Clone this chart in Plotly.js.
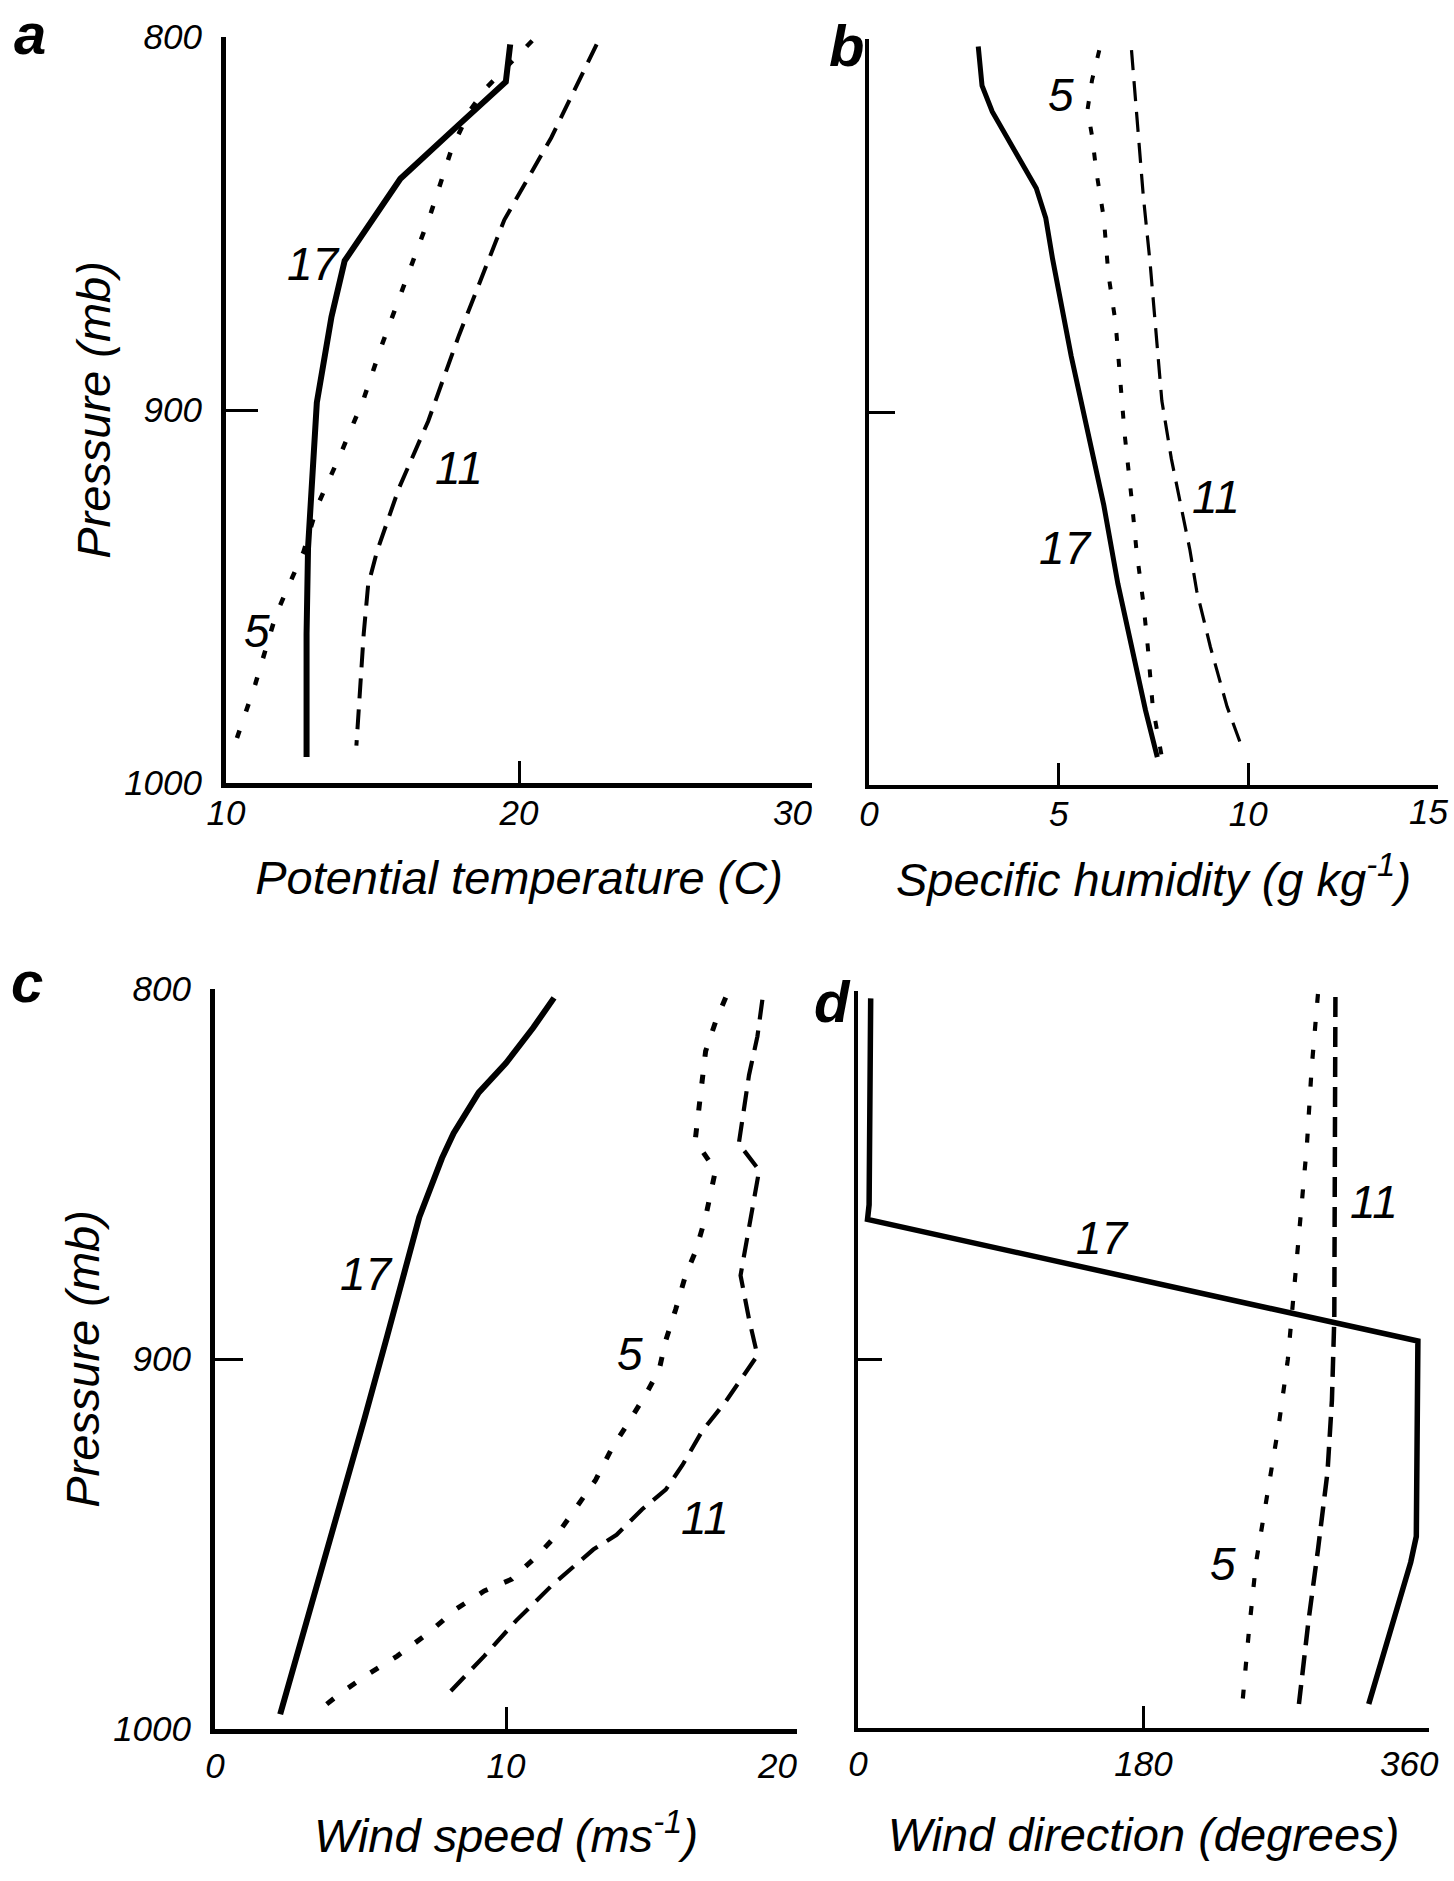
<!DOCTYPE html>
<html>
<head>
<meta charset="utf-8">
<script src="https://cdn.plot.ly/plotly-3.0.1.min.js"></script>
<style>html,body{margin:0;padding:0;background:#fff;}</style>
</head>
<body>
<div id="chart" style="width:1454px;height:1881px;"></div>
<script>
// ---------- Panel a: potential temperature (C) vs pressure (mb) ----------
const A17_p = [802, 812, 823.5, 838, 860, 875, 898, 921, 937, 960, 993];
const A17_t = [19.7, 19.55, 17.95, 15.95, 14.05, 13.6, 13.1, 12.95, 12.8, 12.75, 12.75];
const A5_p  = [801, 807, 813.5, 820, 830, 847, 866, 883, 897, 912, 926, 938, 946, 955, 973.5, 983, 992];
const A5_t  = [20.45, 19.7, 18.9, 18.3, 17.7, 17.0, 16.1, 15.3, 14.7, 13.9, 13.1, 12.65, 12.2, 11.7, 11.0, 10.6, 10.2];
const A11_p = [802, 827, 849, 880, 903, 921, 938, 947, 960, 990];
const A11_t = [22.65, 21.1, 19.5, 17.95, 16.9, 15.9, 15.15, 14.85, 14.7, 14.45];

// ---------- Panel b: specific humidity (g/kg) ----------
const B17_p = [802, 812.5, 819.5, 832.5, 840, 848, 859, 885, 905, 925, 946, 963, 980, 992.5];
const B17_q = [2.88, 2.98, 3.25, 3.98, 4.41, 4.66, 4.84, 5.33, 5.76, 6.19, 6.56, 6.92, 7.29, 7.6];
const B5_p  = [803, 811, 819, 826, 836, 848, 863, 876, 891, 906, 923, 937, 951, 963, 979, 992.5];
const B5_q  = [6.07, 5.88, 5.76, 5.88, 6.0, 6.19, 6.31, 6.5, 6.62, 6.74, 6.92, 7.05, 7.23, 7.35, 7.48, 7.72];
const B11_p = [803, 820, 842, 860, 882, 897, 912.5, 925, 937, 948, 963, 979, 991];
const B11_q = [6.92, 7.05, 7.23, 7.41, 7.6, 7.72, 7.97, 8.21, 8.46, 8.64, 9.0, 9.44, 9.87];

// ---------- Panel c: wind speed (m/s) ----------
const C17_p = [802.4, 810.4, 820, 828, 839, 845.7, 861.7, 876, 893.7, 916, 941.8, 969, 996];
const C17_s = [11.65, 10.94, 10.0, 9.06, 8.2, 7.8, 7.02, 6.55, 5.92, 5.14, 4.2, 3.26, 2.24];
const C5_p  = [802.3, 808.9, 816.8, 827.3, 836.5, 841, 849, 861.6, 870.8, 877.4, 886.6, 895, 903, 909.6, 916.9, 924, 932.7, 940.6, 947, 953, 959.5, 962.7, 967.5, 973.9, 980.3, 985, 990, 994.4];
const C5_s  = [17.55, 17.2, 16.86, 16.7, 16.57, 16.5, 17.2, 16.86, 16.52, 16.17, 15.83, 15.49, 15.26, 14.8, 14.23, 13.65, 13.08, 12.4, 11.8, 11.1, 10.2, 9.25, 8.3, 7.36, 6.26, 5.3, 4.37, 3.66];
const C11_p = [802.9, 812.8, 823.3, 836.5, 841.8, 849, 860, 870.8, 877.4, 889.2, 899, 903.7, 911.5, 919.5, 928.7, 935.3, 940.6, 947.5, 951.5, 961, 970.7, 980.3, 990];
const C11_s = [18.81, 18.64, 18.35, 18.12, 18.0, 18.7, 18.46, 18.23, 18.06, 18.35, 18.64, 18.23, 17.55, 16.74, 16.06, 15.49, 14.68, 13.8, 13.0, 11.6, 10.35, 9.25, 8.07];

// ---------- Panel d: wind direction (degrees) ----------
const D17_p = [802, 858, 862, 895, 948, 955, 993.5];
const D17_d = [8, 7, 6, 353, 352, 348.5, 322];
const D5_p  = [800.8, 821, 842, 864.5, 885.5, 900, 917.7, 937, 955, 974, 995];
const D5_d  = [290, 286, 283, 278.5, 274, 271, 265.3, 258, 251, 246.4, 242];
const D11_p = [801.6, 837, 888.7, 911, 930.6, 951.6, 971, 993.5];
const D11_d = [301, 301, 300.3, 298.8, 296, 290, 284, 278];

// ---------- ticks / labels ----------
const pTicks = [800, 900, 1000];
const aTicks = [10, 20, 30];
const bTicks = [0, 5, 10, 15];
const cTicks = [0, 10, 20];
const dTicks = [0, 180, 360];
const seriesNames = ['17', '5', '11'];

const W = 1454, H = 1881;
const FONT = 'Liberation Sans, Arial, Helvetica, sans-serif';
const NB = '\u00a0';
const TICKSIZE = 35;
const dx = (a, b) => [a / W, b / W];
const dy = (top, bot) => [1 - bot / H, 1 - top / H];

function tr(x, y, xa, ya, name, width, dash) {
  return {x: x, y: y, xaxis: xa, yaxis: ya, name: name, mode: 'lines', hoverinfo: 'skip',
          line: {color: 'black', width: width, dash: dash || 'solid'}};
}

const data = [
  tr(A17_t, A17_p, 'x', 'y', seriesNames[0], 6),
  tr(A5_t, A5_p, 'x', 'y', seriesNames[1], 4.5, '8px,20px'),
  tr(A11_t, A11_p, 'x', 'y', seriesNames[2], 4, '20px,11px'),
  tr(B17_q, B17_p, 'x2', 'y2', seriesNames[0], 5),
  tr(B5_q, B5_p, 'x2', 'y2', seriesNames[1], 4, '8px,18px'),
  tr(B11_q, B11_p, 'x2', 'y2', seriesNames[2], 3.2, '20px,11px'),
  tr(C17_s, C17_p, 'x3', 'y3', seriesNames[0], 6),
  tr(C5_s, C5_p, 'x3', 'y3', seriesNames[1], 5, '9px,18px'),
  tr(C11_s, C11_p, 'x3', 'y3', seriesNames[2], 4.2, '20px,11px'),
  tr(D17_d, D17_p, 'x4', 'y4', seriesNames[0], 5.5),
  tr(D5_d, D5_p, 'x4', 'y4', seriesNames[1], 4.2, '9px,19px'),
  tr(D11_d, D11_p, 'x4', 'y4', seriesNames[2], 4.5, '20px,10px')
];

// edgeLast: the last tick sits at the page edge -> its mark is a minor tick and its label an annotation
function xax(domain, anchor, range, ticks, pad, edgeLast, title, lw, lstand, tstand) {
  const major = edgeLast ? ticks.slice(0, -1) : ticks;
  const ax = {domain: domain, anchor: anchor, range: range, tickvals: major,
          ticktext: major.map((t, i) => (!edgeLast && i === major.length - 1) ? String(t) + NB.repeat(pad) : String(t)),
          ticks: 'inside', ticklen: 22, tickwidth: 3, tickcolor: 'black',
          showline: true, linewidth: lw, linecolor: 'black', showgrid: false, zeroline: false,
          ticklabelstandoff: lstand,
          tickfont: {family: FONT, size: TICKSIZE, style: 'italic', color: 'black'},
          title: {text: title, standoff: tstand, font: {family: FONT, size: 47, style: 'italic', color: 'black'}}};
  if (edgeLast) ax.minor = {tickvals: [ticks[ticks.length - 1]], ticks: 'inside', ticklen: 22, tickwidth: 3,
                            tickcolor: 'black', showgrid: false};
  return ax;
}
function yax(domain, anchor, labels, tlen, lw) {
  const ax = {domain: domain, anchor: anchor, range: [1000, 800], tickvals: pTicks, ticktext: pTicks.map(String),
          showticklabels: labels, ticks: 'inside', ticklen: tlen, tickwidth: 3, tickcolor: 'black',
          showline: true, linewidth: lw, linecolor: 'black', showgrid: false, zeroline: false,
          ticklabelstandoff: 12,
          tickfont: {family: FONT, size: TICKSIZE, style: 'italic', color: 'black'}};
  if (labels) ax.title = {text: 'Pressure (mb)', standoff: 0, font: {family: FONT, size: 47, style: 'italic', color: 'black'}};
  return ax;
}

function ann(text, px, py, size, bold) {
  return {text: bold ? '<b>' + text + '</b>' : text, xref: 'paper', yref: 'paper', x: px / W, y: 1 - py / H,
          xanchor: 'center', yanchor: 'middle', showarrow: false,
          font: {family: FONT, size: size, style: 'italic', color: 'black'}};
}
// tick label of an edge tick, drawn at its axis value, right-aligned so it stays on the page
function edgeTick(val, xref, py) {
  return {text: String(val), xref: xref, yref: 'paper', x: val, y: 1 - py / H, xanchor: 'right', yanchor: 'middle',
          xshift: 12, showarrow: false, font: {family: FONT, size: TICKSIZE, style: 'italic', color: 'black'}};
}

const layout = {
  width: W, height: H, margin: {l: 0, r: 0, t: 0, b: 0},
  paper_bgcolor: 'white', plot_bgcolor: 'white', showlegend: false,
  font: {family: FONT, color: 'black'},
  xaxis:  xax(dx(226, 812), 'y', [10, 30], aTicks, 4, false, 'Potential temperature (C)', 5, -5, 32),
  yaxis:  yax(dy(37, 783), 'x', true, 32, 5),
  xaxis2: xax(dx(869, 1438), 'y2', [0, 15], bTicks, 0, true, 'Specific humidity (g kg<sup>-1</sup>)', 4, -5, 32),
  yaxis2: yax(dy(39, 785), 'x2', false, 26, 4),
  xaxis3: xax(dx(215, 797), 'y3', [0, 20], cTicks, 4, false, 'Wind speed (ms<sup>-1</sup>)', 5, 2, 37),
  yaxis3: yax(dy(989, 1729), 'x3', true, 28, 5),
  xaxis4: xax(dx(858, 1429), 'y4', [0, 360], dTicks, 0, true, 'Wind direction (degrees)', 4, 2, 37),
  yaxis4: yax(dy(991, 1728), 'x4', false, 24, 4),
  annotations: [
    ann('a', 30, 34, 58, true), ann('b', 846, 45, 58, true),
    ann('c', 27, 982, 58, true), ann('d', 832, 1001, 58, true),
    ann('17', 313, 264, 46), ann('11', 459, 468, 46), ann('5', 257, 631, 46),
    ann('5', 1061, 95, 46), ann('11', 1216, 497, 46), ann('17', 1065, 548, 46),
    ann('17', 366, 1274, 46), ann('5', 630, 1354, 46), ann('11', 705, 1518, 46),
    ann('11', 1374, 1202, 46), ann('17', 1102, 1238, 46), ann('5', 1223, 1564, 46),
    edgeTick(bTicks[bTicks.length - 1], 'x2', 811),
    edgeTick(dTicks[dTicks.length - 1], 'x4', 1763)
  ]
};

Plotly.newPlot('chart', data, layout, {displayModeBar: false, staticPlot: true});
</script>
</body>
</html>
